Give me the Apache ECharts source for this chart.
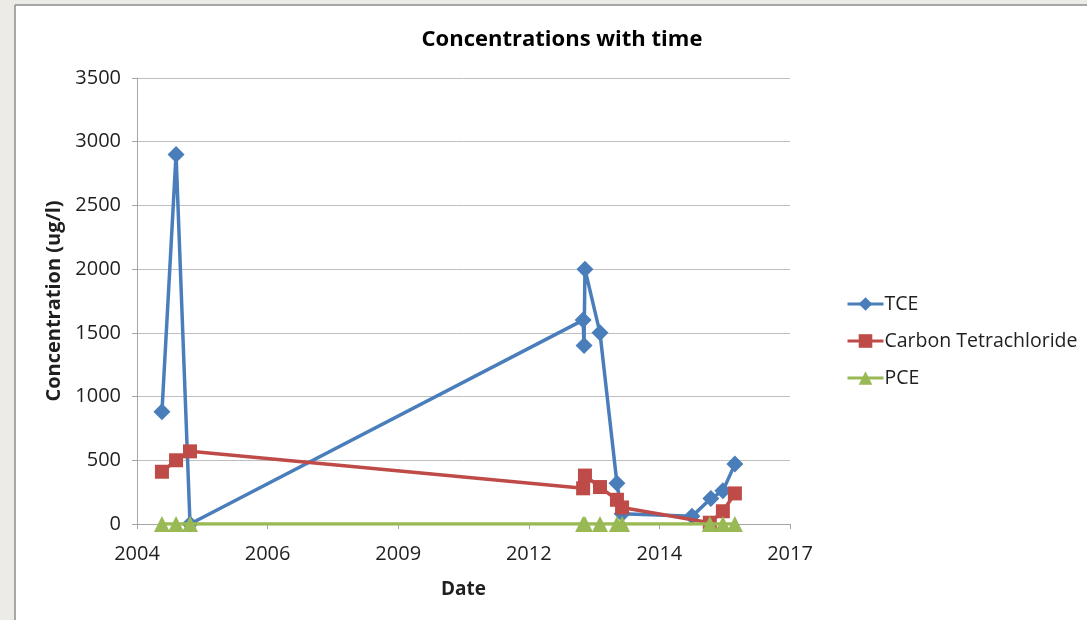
<!DOCTYPE html>
<html>
<head>
<meta charset="utf-8">
<style>
  html, body { margin: 0; padding: 0; background: #ffffff; }
  #chart { width: 1087px; height: 620px; }
</style>
<script src="https://cdn.jsdelivr.net/npm/echarts@6/dist/echarts.min.js"></script>
</head>
<body>
<div id="chart"></div>
<script>
// ---- Data ----
const seriesNames = ['TCE', 'Carbon Tetrachloride', 'PCE'];

const tceDates = ['2004-07-23', '2004-11-08', '2005-02-23', '2013-05-22', '2013-05-29', '2013-06-05',
                  '2013-09-28', '2014-02-05', '2014-03-16', '2015-09-02', '2016-01-25', '2016-04-26', '2016-07-27'];
const tceValues = [880, 2900, 0, 1600, 1400, 2000, 1500, 320, 80, 60, 200, 260, 470];

const ctDates = ['2004-07-23', '2004-11-08', '2005-02-23', '2013-05-22', '2013-06-05', '2013-09-28',
                 '2014-02-05', '2014-03-16', '2016-01-17', '2016-04-26', '2016-07-27'];
const ctValues = [410, 500, 570, 280, 380, 290, 190, 130, 10, 100, 240];

const pceDates = ['2004-07-23', '2004-11-08', '2005-02-23', '2013-05-22', '2013-06-05', '2013-09-28',
                  '2014-02-05', '2014-03-16', '2016-01-17', '2016-04-26', '2016-07-27'];
const pceValues = [0, 0, 0, 0, 0, 0, 0, 0, 0, 0, 0];

// x axis in spreadsheet date serial numbers (days since 1899-12-30)
const xMin = 38000, xMax = 43000, xStep = 1000;
const yMin = 0, yMax = 3500, yStep = 500;

const EPOCH = Date.UTC(1899, 11, 30);
function toSerial(s) {
  const p = s.split('-').map(Number);
  return (Date.UTC(p[0], p[1] - 1, p[2]) - EPOCH) / 86400000;
}
function serialYear(v) {
  return String(new Date(EPOCH + v * 86400000).getUTCFullYear());
}
function pairs(dates, vals) {
  return dates.map((d, i) => [toSerial(d), vals[i]]);
}

const colors = ['#4A7EBB', '#BE4B48', '#98B954'];
const FONT = '"Open Sans", "Liberation Sans", sans-serif';
const TXT = '#1f1f1f';

const chart = echarts.init(document.getElementById('chart'), null, { renderer: 'canvas' });

const option = {
  animation: false,
  backgroundColor: '#ffffff',
  color: colors,
  title: {
    text: 'Concentrations with time',
    left: 557, top: 24, textAlign: 'center',
    textStyle: { fontFamily: FONT, fontWeight: 'bold', fontSize: 22, color: '#000' }
  },
  graphic: [
    { type: 'rect', shape: { x: 0, y: 0, width: 15, height: 620 }, style: { fill: '#ECEBE6' }, silent: true, z: 100 },
    { type: 'rect', shape: { x: 0, y: 0, width: 1087, height: 5 }, style: { fill: '#ECEBE6' }, silent: true, z: 100 },
    { type: 'line', shape: { x1: 15, y1: 5, x2: 15, y2: 620 }, style: { stroke: '#8C8C8C', lineWidth: 1.5 }, silent: true, z: 100 },
    { type: 'line', shape: { x1: 15, y1: 5, x2: 1087, y2: 5 }, style: { stroke: '#8C8C8C', lineWidth: 1.5 }, silent: true, z: 100 }
  ],
  legend: {
    orient: 'vertical',
    left: 841, top: 289,
    itemGap: 17,
    itemWidth: 36, itemHeight: 17,
    lineStyle: { width: 3 },
    textStyle: { fontFamily: FONT, fontSize: 19.5, color: TXT, padding: [0, 0, 0, -4] },
    data: seriesNames
  },
  grid: { left: 137, right: 297, top: 78, bottom: 96, containLabel: false },
  xAxis: {
    type: 'value',
    min: xMin, max: xMax, interval: xStep,
    name: 'Date', nameLocation: 'middle', nameGap: 56,
    nameTextStyle: { fontFamily: FONT, fontWeight: 'bold', fontSize: 19, color: TXT },
    axisLine: { show: true, lineStyle: { color: '#A6A6A6', width: 1 } },
    axisTick: { show: true, length: 5, lineStyle: { color: '#A6A6A6' } },
    splitLine: { show: false },
    axisLabel: { fontFamily: FONT, fontSize: 20, color: TXT, margin: 20, formatter: v => serialYear(v) }
  },
  yAxis: {
    type: 'value',
    min: yMin, max: yMax, interval: yStep,
    name: 'Concentration (ug/l)', nameLocation: 'middle', nameGap: 70, nameRotate: 90,
    nameTextStyle: { fontFamily: FONT, fontWeight: 'bold', fontSize: 20, color: TXT },
    axisLine: { show: true, lineStyle: { color: '#A6A6A6', width: 1 } },
    axisTick: { show: true, length: 5, lineStyle: { color: '#A6A6A6' } },
    splitLine: { show: true, lineStyle: { color: '#BFBFBF', width: 1 } },
    axisLabel: { fontFamily: FONT, fontSize: 20, color: TXT, margin: 16, formatter: v => String(v) }
  },
  series: [
    {
      name: seriesNames[0], type: 'line', data: pairs(tceDates, tceValues),
      symbol: 'diamond', symbolSize: 17, showAllSymbol: true,
      lineStyle: { width: 3.5, color: colors[0] }, itemStyle: { color: colors[0] }, z: 3
    },
    {
      name: seriesNames[1], type: 'line', data: pairs(ctDates, ctValues),
      symbol: 'rect', symbolSize: 14, showAllSymbol: true,
      lineStyle: { width: 3.5, color: colors[1] }, itemStyle: { color: colors[1] }, z: 4
    },
    {
      name: seriesNames[2], type: 'line', data: pairs(pceDates, pceValues),
      symbol: 'triangle', symbolSize: 16, showAllSymbol: true,
      lineStyle: { width: 3.5, color: colors[2] }, itemStyle: { color: colors[2] }, z: 5
    }
  ]
};
chart.setOption(option);
</script>
</body>
</html>
